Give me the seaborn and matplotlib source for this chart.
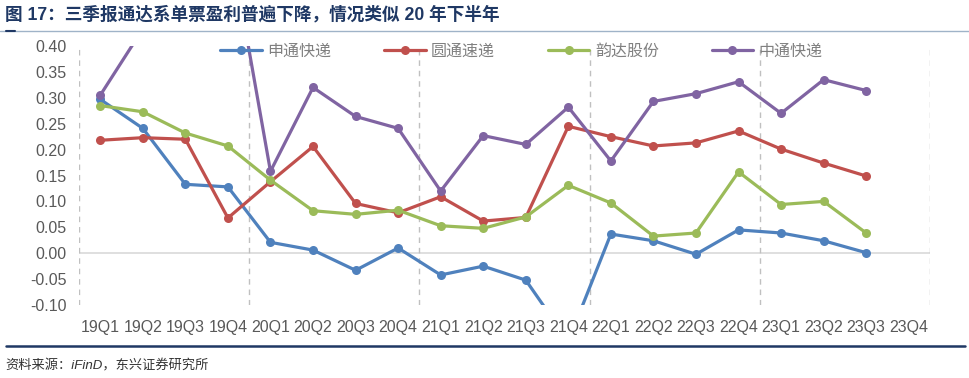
import numpy as np
import pandas as pd
import matplotlib
matplotlib.use("Agg")
import matplotlib.pyplot as plt
import seaborn as sns
from matplotlib.lines import Line2D

# data (yuan per parcel)
quarters = ["19Q1", "19Q2", "19Q3", "19Q4", "20Q1", "20Q2", "20Q3", "20Q4",
            "21Q1", "21Q2", "21Q3", "21Q4", "22Q1", "22Q2", "22Q3", "22Q4",
            "23Q1", "23Q2", "23Q3", "23Q4"]
names = ["申通快递", "圆通速递", "韵达股份", "中通快递"]
sto = [0.297, 0.241, 0.133, 0.128, 0.021, 0.006, -0.033, 0.010, -0.042, -0.025,
       -0.052, -0.170, 0.037, 0.024, -0.002, 0.045, 0.039, 0.024, 0.001, np.nan]
yto = [0.218, 0.223, 0.220, 0.068, 0.138, 0.206, 0.096, 0.078, 0.109, 0.062,
       0.069, 0.245, 0.225, 0.207, 0.213, 0.236, 0.201, 0.174, 0.149, np.nan]
yunda = [0.285, 0.273, 0.232, 0.207, 0.141, 0.082, 0.075, 0.083, 0.053, 0.048,
         0.070, 0.131, 0.097, 0.033, 0.039, 0.157, 0.094, 0.100, 0.039, np.nan]
zto = [0.305, 0.433, 0.450, 0.623, 0.158, 0.320, 0.264, 0.241, 0.120, 0.227,
       0.210, 0.282, 0.178, 0.293, 0.308, 0.331, 0.270, 0.335, 0.314, np.nan]
colors = ["#4F81BD", "#C0504D", "#9BBB59", "#8064A2"]

rows = []
for name, vals in zip(names, [sto, yto, yunda, zto]):
    for i, v in enumerate(vals):
        rows.append({"pos": i, "value": v, "company": name})
df = pd.DataFrame(rows).dropna()

sns.set_theme(style="white")
plt.rcParams["font.family"] = ["Liberation Sans", "Noto Sans CJK SC", "DejaVu Sans"]

fig = plt.figure(figsize=(9.69, 3.78), dpi=100)
ax = fig.add_axes([79 / 969, 1 - 305 / 378, 851 / 969, 259 / 378])

# zero line and dashed year separators
ax.axhline(0, color="#d9d9d9", lw=1.2, zorder=0)
for xv in [-0.5, 3.5, 7.5, 11.5, 15.5, 19.5]:
    ax.axvline(xv, color="#c0c0c0", lw=1, ls=(0, (4, 3.5)), zorder=0)

sns.lineplot(data=df, x="pos", y="value", hue="company", hue_order=names,
             palette=colors, marker="o", markersize=6.5, markeredgewidth=0,
             linewidth=2.3, legend=False, ax=ax)

ax.set_xlim(-0.5, 19.5)
ax.set_ylim(-0.10, 0.40)
ax.set_xticks(range(len(quarters)))
ax.set_xticklabels(quarters)
yt = np.round(np.arange(-0.10, 0.401, 0.05), 2)
ax.set_yticks(yt)
ax.set_yticklabels([f"{v:.2f}" for v in yt])
ax.tick_params(axis="both", length=0, labelsize=11.5, colors="#595959")
ax.tick_params(axis="x", pad=11)
ax.tick_params(axis="y", pad=9)
ax.set_xlabel("")
ax.set_ylabel("")
for s in ax.spines.values():
    s.set_visible(False)

handles = [Line2D([], [], color=c, lw=2.3, marker="o", markersize=6.5,
                  markeredgewidth=0) for c in colors]
leg = ax.legend(handles, names, ncol=4, loc="center", bbox_to_anchor=(0.52, 0.98),
                frameon=False, fontsize=11.5, handlelength=2.6, handletextpad=0.35,
                columnspacing=3.3, borderpad=0)
for t in leg.get_texts():
    t.set_color("#808080")

# title, rules and source
fig.text(5 / 969, 1 - 15 / 378, "图 17：三季报通达系单票盈利普遍下降，情况类似 20 年下半年",
         fontsize=12.7, weight="bold", color="#1F3864", va="center", ha="left")
fig.add_artist(Line2D([0, 1], [1 - 31 / 378] * 2, color="#9fb3c8", lw=1))
fig.add_artist(Line2D([6 / 969, 15 / 969], [1 - 31 / 378] * 2, color="#1F3864", lw=1.5))
fig.add_artist(Line2D([6 / 969, 965 / 969], [1 - 346 / 378] * 2, color="#1F3864", lw=1.8))
fig.text(5 / 969, 1 - 366 / 378, "资料来源：iFinD，东兴证券研究所",
         fontsize=9.5, style="italic", color="#333333", va="center", ha="left")

fig.savefig("out.png", dpi=100)
